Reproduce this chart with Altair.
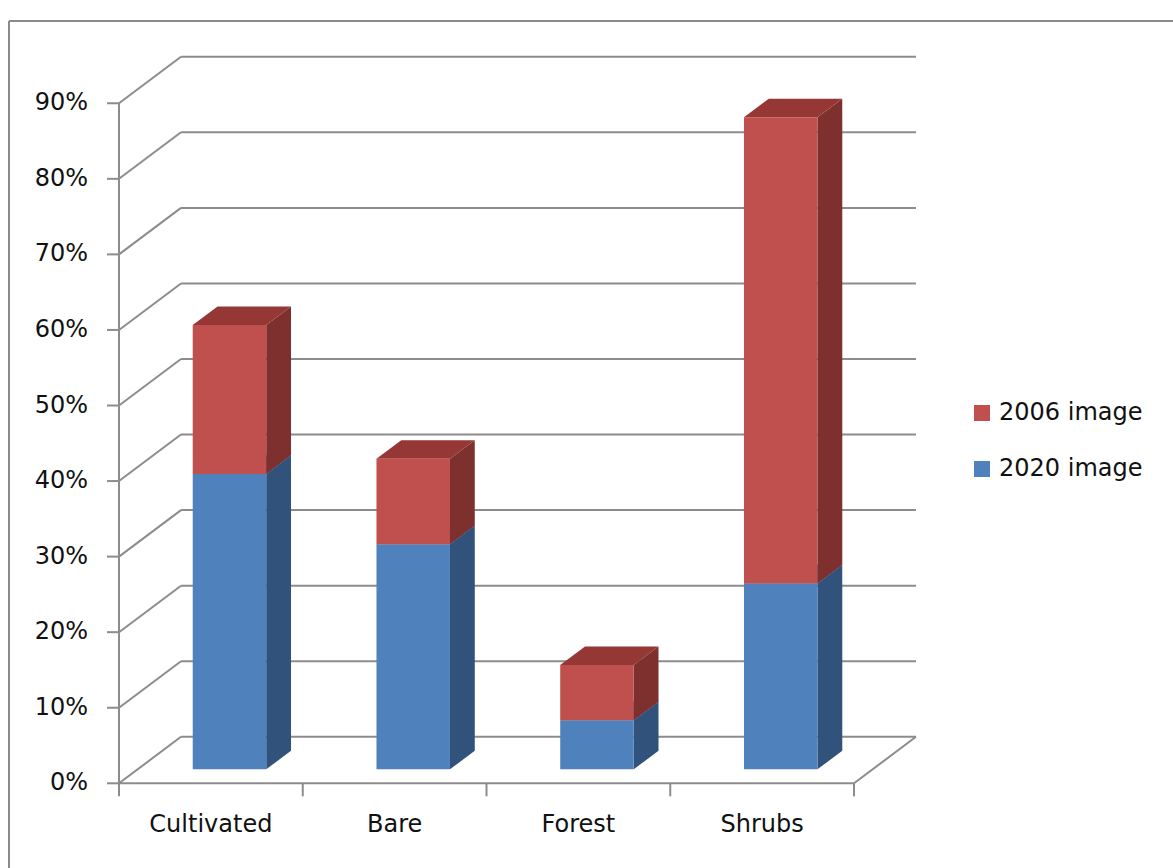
import altair as alt
import pandas as pd

# ---------------- data ----------------
categories = ["Cultivated", "Bare", "Forest", "Shrubs"]
values_2020 = [39.1, 29.8, 6.5, 24.6]   # bottom segment (blue)
values_2006 = [19.7, 11.3, 7.3, 61.7]   # top segment (red)
series_bottom_to_top = ["2020 image", "2006 image"]
legend_order = ["2006 image", "2020 image"]
y_ticks = [0, 10, 20, 30, 40, 50, 60, 70, 80, 90]
y_tick_labels = ["0%", "10%", "20%", "30%", "40%", "50%", "60%", "70%", "80%", "90%"]

# ---------------- geometry / style ----------------
W, H = 1173, 868
ORIGIN_X, ORIGIN_Y = 119.0, 783.3        # front-plane (0 category, 0%) in px
PX_PER_CAT, PX_PER_PCT = 183.75, 7.556
DEPTH_U = 62.0 / PX_PER_CAT              # full depth shift in category units
DEPTH_V = 46.5 / PX_PER_PCT              # full depth shift in percent units
BAR_D0, BAR_D1 = 0.30, 0.70              # bar depth span (fraction)
BAR_L, BAR_R = 0.30, 0.70                # bar span within slot
x_domain = [(0 - ORIGIN_X) / PX_PER_CAT, (W - ORIGIN_X) / PX_PER_CAT]
y_domain = [(ORIGIN_Y - H) / PX_PER_PCT, ORIGIN_Y / PX_PER_PCT]

FONT = "DejaVu Sans"
FS = 24
TXT = "#111111"
GRID = "#8c8c8c"
face_colors = {
    "2020 image": {"front": "#4F81BD", "side": "#31527A", "top": "#3F6A9C"},
    "2006 image": {"front": "#C0504D", "side": "#7E302E", "top": "#943735"},
}

xs = alt.Scale(domain=x_domain, nice=False, zero=False)
ys = alt.Scale(domain=y_domain, nice=False, zero=False)

# ---------------- lines (walls, grid, axes) ----------------
lines = []
n = len(categories)
for t in y_ticks:
    lines.append(dict(x=DEPTH_U, x2=n + DEPTH_U, y=t + DEPTH_V, y2=t + DEPTH_V))  # back wall
    lines.append(dict(x=0, x2=DEPTH_U, y=t, y2=t + DEPTH_V))                      # side wall
    lines.append(dict(x=-12 / PX_PER_CAT, x2=0, y=t, y2=t))                      # y tick
lines.append(dict(x=n, x2=n + DEPTH_U, y=0, y2=DEPTH_V))                          # floor right
lines.append(dict(x=0, x2=n, y=0, y2=0))                                          # x axis
lines.append(dict(x=0, x2=0, y=0, y2=y_ticks[-1]))                                # y axis
for i in range(n + 1):
    lines.append(dict(x=i, x2=i, y=0, y2=-13 / PX_PER_PCT))                       # x ticks
lines_df = pd.DataFrame(lines)

lines_layer = alt.Chart(lines_df).mark_rule(color=GRID, strokeWidth=2).encode(
    x=alt.X("x:Q", scale=xs, axis=None),
    x2="x2:Q",
    y=alt.Y("y:Q", scale=ys, axis=None),
    y2="y2:Q",
)

# ---------------- bars ----------------
fronts, sides, tops = [], [], []
sx0, sy0 = BAR_D0 * DEPTH_U, BAR_D0 * DEPTH_V
sx1, sy1 = BAR_D1 * DEPTH_U, BAR_D1 * DEPTH_V
for i, cat in enumerate(categories):
    base = 0.0
    for s, vals in zip(series_bottom_to_top, [values_2020, values_2006]):
        v0, v1 = base, base + vals[i]
        base = v1
        L, R = i + BAR_L, i + BAR_R
        seg = f"{cat}|{s}"
        fronts.append(dict(series=s, cat=cat, x=L + sx0, x2=R + sx0, y=v0 + sy0, y2=v1 + sy0))
        sides.append(dict(series=s, seg=seg, x=R + sx0, y=v0 + sy0, y2=v1 + sy0))
        sides.append(dict(series=s, seg=seg, x=R + sx1, y=v0 + sy1, y2=v1 + sy1))
        tops.append(dict(series=s, seg=seg, y=v1 + sy0, x=L + sx0, x2=R + sx0))
        tops.append(dict(series=s, seg=seg, y=v1 + sy1, x=L + sx1, x2=R + sx1))
fronts_df, sides_df, tops_df = pd.DataFrame(fronts), pd.DataFrame(sides), pd.DataFrame(tops)

color_scale = alt.Scale(domain=legend_order,
                        range=[face_colors[s]["front"] for s in legend_order])

bar_layers = []
for s in series_bottom_to_top:
    side = alt.Chart(sides_df).transform_filter(alt.datum.series == s).mark_area(
        color=face_colors[s]["side"], orient="vertical").encode(
        x=alt.X("x:Q", scale=xs, axis=None),
        y=alt.Y("y:Q", scale=ys, axis=None, stack=None),
        y2="y2:Q",
        detail="seg:N",
    )
    top = alt.Chart(tops_df).transform_filter(alt.datum.series == s).mark_area(
        color=face_colors[s]["top"], orient="horizontal").encode(
        y=alt.Y("y:Q", scale=ys, axis=None),
        x=alt.X("x:Q", scale=xs, axis=None, stack=None),
        x2="x2:Q",
        detail="seg:N",
    )
    front = alt.Chart(fronts_df).transform_filter(alt.datum.series == s).mark_rect().encode(
        x=alt.X("x:Q", scale=xs, axis=None),
        x2="x2:Q",
        y=alt.Y("y:Q", scale=ys, axis=None),
        y2="y2:Q",
        color=alt.Color("series:N", scale=color_scale,
                        legend=alt.Legend(
                            title=None, orient="none", legendX=970, legendY=401,
                            symbolType="square", symbolSize=256, symbolStrokeWidth=0,
                            labelFont=FONT, labelFontSize=FS, labelColor=TXT,
                            labelOffset=5, rowPadding=32, padding=0,
                            values=legend_order)),
    )
    bar_layers += [side, top, front]

# ---------------- text ----------------
ytxt_df = pd.DataFrame({"t": y_ticks, "label": y_tick_labels})
ytxt_df["x"] = -31 / PX_PER_CAT
ylabels = alt.Chart(ytxt_df).mark_text(
    align="right", baseline="middle", font=FONT, fontSize=FS, color=TXT).encode(
    x=alt.X("x:Q", scale=xs, axis=None),
    y=alt.Y("t:Q", scale=ys, axis=None),
    text="label:N",
)

xtxt_df = pd.DataFrame({"cat": categories, "x": [i + 0.5 for i in range(n)]})
xtxt_df["y"] = (ORIGIN_Y - 825) / PX_PER_PCT
xlabels = alt.Chart(xtxt_df).mark_text(
    align="center", baseline="middle", font=FONT, fontSize=FS, color=TXT).encode(
    x=alt.X("x:Q", scale=xs, axis=None),
    y=alt.Y("y:Q", scale=ys, axis=None),
    text="cat:N",
)

# ---------------- outer frame ----------------
frame_df = pd.DataFrame({"k": [0]})
frame_left = alt.Chart(frame_df).mark_rule(color="#8a8a8a", strokeWidth=2).encode(
    x=alt.value(9), y=alt.value(21), y2=alt.value(H))
frame_top = alt.Chart(frame_df).mark_rule(color="#8a8a8a", strokeWidth=2).encode(
    x=alt.value(9), x2=alt.value(W), y=alt.value(21))

chart = alt.layer(
    frame_left, frame_top, lines_layer, *bar_layers, ylabels, xlabels
).properties(
    width=W, height=H, padding=0,
    autosize=alt.AutoSizeParams(type="none"),
    background="white",
).configure_view(stroke=None)

chart.save("out.html", embed_options={"renderer": "svg", "actions": False})
